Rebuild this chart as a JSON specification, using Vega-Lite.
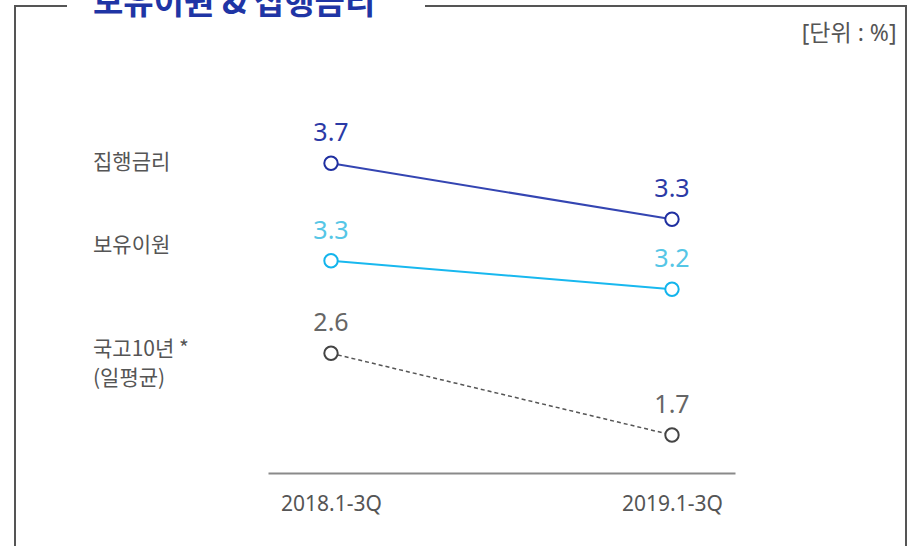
{
  "$schema": "https://vega.github.io/schema/vega-lite/v6.json",
  "autosize": {"type": "none"},
  "padding": {"left": 15, "top": 6, "right": 10, "bottom": 1},
  "width": 891,
  "height": 540,
  "background": "white",
  "config": {
    "font": "Noto Sans, Noto Sans CJK KR",
    "view": {"stroke": "#555555", "strokeWidth": 2, "strokeDash": [52, 358, 1021, 891, 540]}
  },
  "title": {
    "text": "보유이원 & 집행금리",
    "anchor": "start",
    "frame": "group",
    "font": "Noto Sans CJK KR",
    "fontSize": 33,
    "fontWeight": "bold",
    "color": "#1f35a5",
    "baseline": "alphabetic",
    "offset": 0,
    "dx": 78,
    "dy": 41
  },
  "data": {
    "values": [
      {"series": "집행금리", "period": "2018.1-3Q", "value": 3.7},
      {"series": "집행금리", "period": "2019.1-3Q", "value": 3.3},
      {"series": "보유이원", "period": "2018.1-3Q", "value": 3.3},
      {"series": "보유이원", "period": "2019.1-3Q", "value": 3.2},
      {"series": "국고10년 *\n(일평균)", "period": "2018.1-3Q", "value": 2.6},
      {"series": "국고10년 *\n(일평균)", "period": "2019.1-3Q", "value": 1.7}
    ]
  },
  "encoding": {
    "x": {
      "field": "period",
      "type": "ordinal",
      "scale": {"type": "point", "domain": ["2018.1-3Q", "2019.1-3Q"], "range": [253, 720], "padding": 0.1848},
      "axis": {
        "orient": "bottom",
        "offset": -73,
        "domainColor": "#8a8a8a",
        "domainWidth": 2,
        "ticks": false,
        "labelAngle": 0,
        "labelFontSize": 21,
        "labelColor": "#555555",
        "labelPadding": 20,
        "title": "[단위 :   %]",
        "titleFont": "Noto Sans, Noto Sans CJK KR",
        "titleFontSize": 23,
        "titleFontWeight": "normal",
        "titleColor": "#555555",
        "titleAngle": 0,
        "titleAlign": "right",
        "titleBaseline": "middle",
        "titleX": 881,
        "titleY": -440
      }
    }
  },
  "layer": [
    {
      "transform": [{"filter": "datum.series === '집행금리'"}],
      "encoding": {
        "y": {"field": "value", "type": "quantitative", "scale": {"domain": [0.9665, 4.8236], "zero": false, "nice": false}, "axis": null}
      },
      "layer": [
        {"mark": {"type": "line", "color": "#3445b2", "strokeWidth": 2}},
        {"mark": {"type": "point", "shape": "circle", "filled": true, "fill": "white", "stroke": "#1f2fa0", "strokeWidth": 2, "size": 180, "opacity": 1}},
        {"mark": {"type": "text", "fontSize": 25, "color": "#2b3aa6", "baseline": "alphabetic", "dy": -22}, "encoding": {"text": {"field": "value", "type": "quantitative", "format": ".1f"}}},
        {"transform": [{"filter": "datum.period === '2018.1-3Q'"}], "mark": {"type": "text", "font": "Noto Sans CJK KR", "fontSize": 21, "color": "#555555", "align": "left", "baseline": "middle", "dx": -238, "dy": 0}, "encoding": {"text": {"field": "series"}}}
      ]
    },
    {
      "transform": [{"filter": "datum.series === '보유이원'"}],
      "encoding": {
        "y": {"field": "value", "type": "quantitative", "scale": {"domain": [2.3025, 4.1906], "zero": false, "nice": false}, "axis": null}
      },
      "layer": [
        {"mark": {"type": "line", "color": "#18b8ef", "strokeWidth": 2}},
        {"mark": {"type": "point", "shape": "circle", "filled": true, "fill": "white", "stroke": "#12b4ec", "strokeWidth": 2, "size": 180, "opacity": 1}},
        {"mark": {"type": "text", "fontSize": 25, "color": "#55c6e6", "baseline": "alphabetic", "dy": -22}, "encoding": {"text": {"field": "value", "type": "quantitative", "format": ".1f"}}},
        {"transform": [{"filter": "datum.period === '2018.1-3Q'"}], "mark": {"type": "text", "font": "Noto Sans CJK KR", "fontSize": 21, "color": "#555555", "align": "left", "baseline": "middle", "dx": -238, "dy": -15}, "encoding": {"text": {"field": "series"}}}
      ]
    },
    {
      "transform": [{"filter": "indexof(datum.series, '국고') === 0"}],
      "encoding": {
        "y": {"field": "value", "type": "quantitative", "scale": {"domain": [0.4773, 6.4258], "zero": false, "nice": false}, "axis": null}
      },
      "layer": [
        {"mark": {"type": "line", "color": "#555555", "strokeWidth": 1.5, "strokeDash": [4, 3]}},
        {"mark": {"type": "point", "shape": "circle", "filled": true, "fill": "white", "stroke": "#444444", "strokeWidth": 2, "size": 180, "opacity": 1}},
        {"mark": {"type": "text", "fontSize": 25, "color": "#666666", "baseline": "alphabetic", "dy": -22}, "encoding": {"text": {"field": "value", "type": "quantitative", "format": ".1f"}}},
        {"transform": [{"filter": "datum.period === '2018.1-3Q'"}], "mark": {"type": "text", "font": "Noto Sans CJK KR", "fontSize": 21, "color": "#555555", "align": "left", "baseline": "middle", "dx": -238, "dy": -3, "lineBreak": "\n", "lineHeight": 29}, "encoding": {"text": {"field": "series"}}}
      ]
    }
  ],
  "resolve": {"scale": {"y": "independent"}}
}
